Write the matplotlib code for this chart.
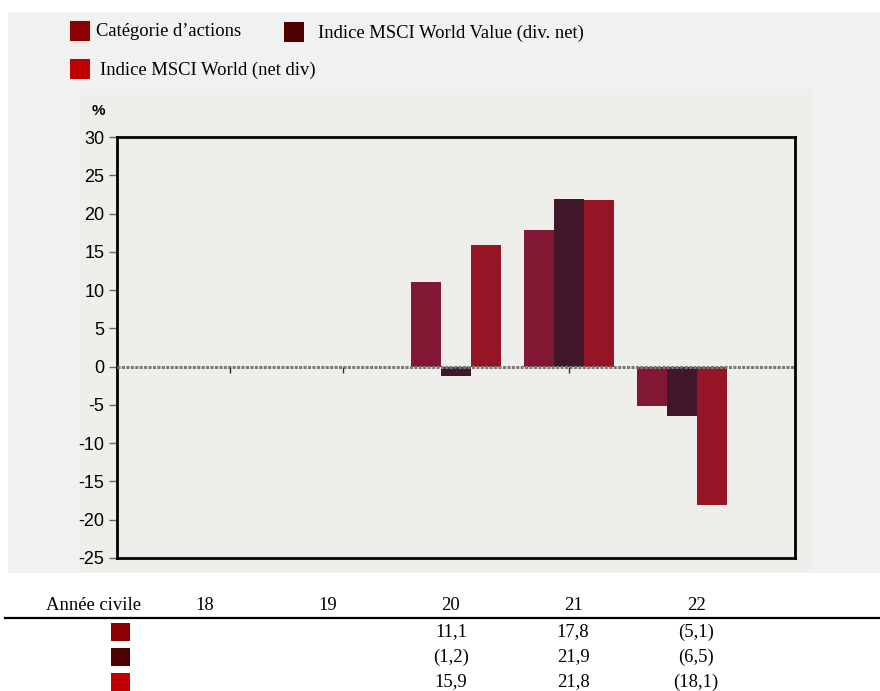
import matplotlib
matplotlib.use('Agg')
import matplotlib.pyplot as plt
from matplotlib.patches import Rectangle
import numpy as np

plt.rcParams['axes.unicode_minus'] = False

# data
years = ['18', '19', '20', '21', '22']
categorie = [np.nan, np.nan, 11.1, 17.8, -5.1]
msci_value = [np.nan, np.nan, -1.2, 21.9, -6.5]
msci_world = [np.nan, np.nan, 15.9, 21.8, -18.1]
series_names = ['Catégorie d\u2019actions', 'Indice MSCI World Value (div. net)',
                'Indice MSCI World (net div)']
table_rows = [['', '', '11,1', '17,8', '(5,1)'],
              ['', '', '(1,2)', '21,9', '(6,5)'],
              ['', '', '15,9', '21,8', '(18,1)']]

bar_colors = ['#821834', '#43172a', '#951426']
key_colors = ['#8b0000', '#4f0000', '#c00000']

W, H = 880, 691
fig = plt.figure(figsize=(W/100, H/100), dpi=100)
fig.patch.set_facecolor('white')

def fx(x):
    return x / W

def fy(y):
    return 1 - y / H

def box(x0, y0, x1, y1, color, z=0):
    fig.patches.append(Rectangle((fx(x0), fy(y1)), fx(x1) - fx(x0), fy(y0) - fy(y1),
                                 transform=fig.transFigure, facecolor=color,
                                 edgecolor='none', zorder=z))

# backgrounds
box(8, 12, 880, 573, '#f1f1f1', 0)
box(80, 89, 810, 573, '#eeeeea', 1)

serif = 'Liberation Serif'
sans = ['Liberation Sans Narrow', 'Liberation Sans']

# legend
box(70, 21, 90, 41, key_colors[0], 2)
fig.text(fx(96), fy(32), series_names[0], family=serif, fontsize=13.4, va='center')
box(284, 22, 304, 42, key_colors[1], 2)
fig.text(fx(318), fy(33), series_names[1], family=serif, fontsize=13.4, va='center')
box(70, 59, 90, 79, key_colors[2], 2)
fig.text(fx(100), fy(70), series_names[2], family=serif, fontsize=13.4, va='center')

# axes
ax = fig.add_axes([fx(117), fy(558), fx(795) - fx(117), fy(137) - fy(558)])
ax.set_facecolor('#eeeeea')
ax.set_zorder(3)

x = np.arange(1, len(years) + 1)
w = 0.266
ax.bar(x - w, categorie, w, color=bar_colors[0], zorder=2)
ax.bar(x, msci_value, w, color=bar_colors[1], zorder=2)
ax.bar(x + w, msci_world, w, color=bar_colors[2], zorder=2)

ax.axhline(0, color='#7a7a7a', lw=2.2, ls=(0, (1, 0.45)), zorder=3)
ax.vlines(x, -0.8, 0, color='#333333', lw=1, zorder=4)

ax.set_xlim(0, 6)
ax.set_ylim(-25, 30)
ax.set_xticks([])
ax.set_yticks(range(-25, 31, 5))
ax.tick_params(axis='y', length=6, width=1, color='#666666', pad=3,
               labelsize=13)
for lab in ax.get_yticklabels():
    lab.set_family(sans)
for sp in ax.spines.values():
    sp.set_linewidth(2)
    sp.set_color('black')

fig.text(fx(92), fy(111), '%', family=sans, fontsize=11, fontweight='bold',
         va='center', zorder=4)

# table under the chart
col_x = [205, 328, 451, 573, 696]
fig.text(fx(94), fy(605), 'Année civile', family=serif, fontsize=13.4,
         ha='center', va='center')
for cx, yr in zip(col_x, years):
    fig.text(fx(cx), fy(605), yr, family=serif, fontsize=13.4, ha='center', va='center')
fig.add_artist(plt.Line2D([fx(5), fx(880)], [fy(618), fy(618)],
                          transform=fig.transFigure, color='black', lw=1.6))
row_y = [632, 657, 682]
for ry, kc, row in zip(row_y, key_colors, table_rows):
    box(111, ry - 9, 130, ry + 9, kc, 2)
    for cx, v in zip(col_x, row):
        if v:
            fig.text(fx(cx), fy(ry), v, family=serif, fontsize=13.4,
                     ha='center', va='center')

fig.savefig('out.png', dpi=100)
